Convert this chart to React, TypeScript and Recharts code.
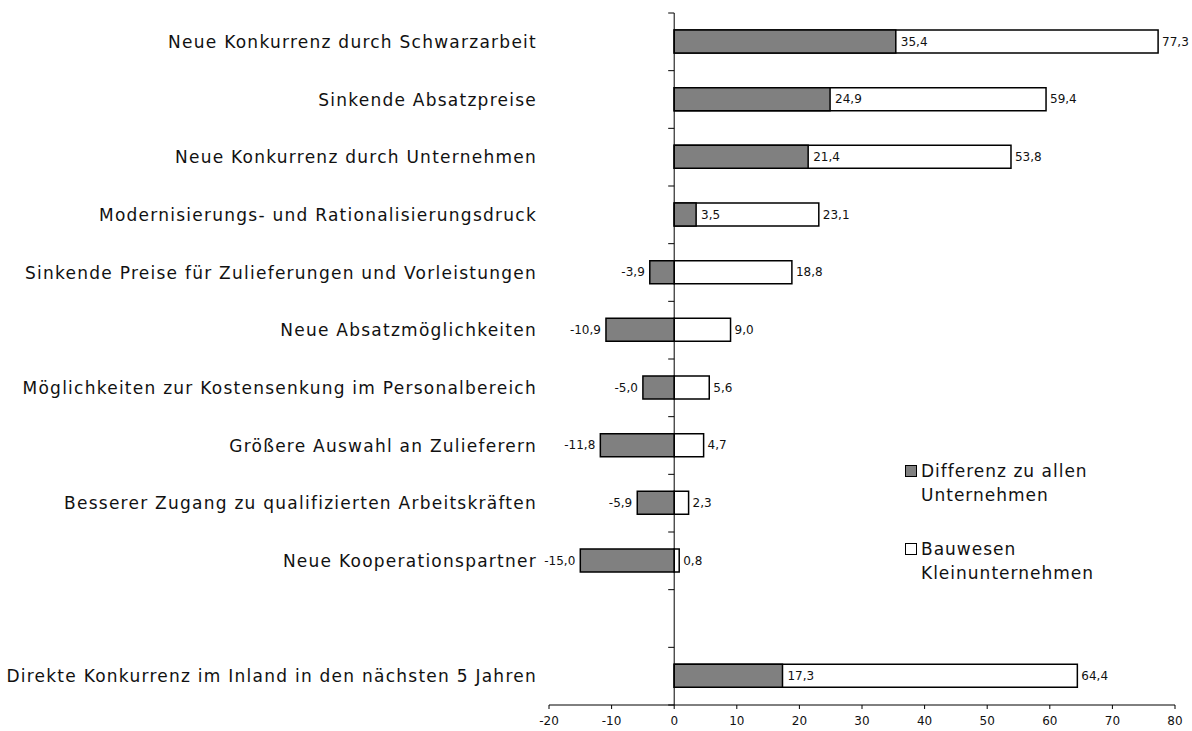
import React from 'react';
import {
  BarChart, Bar, XAxis, YAxis, ReferenceLine, LabelList
} from 'recharts';

const categories = [
  'Neue Konkurrenz durch Schwarzarbeit',
  'Sinkende Absatzpreise',
  'Neue Konkurrenz durch Unternehmen',
  'Modernisierungs- und Rationalisierungsdruck',
  'Sinkende Preise für Zulieferungen und Vorleistungen',
  'Neue Absatzmöglichkeiten',
  'Möglichkeiten zur Kostensenkung im Personalbereich',
  'Größere Auswahl an Zulieferern',
  'Besserer Zugang zu qualifizierten Arbeitskräften',
  'Neue Kooperationspartner',
  '',
  'Direkte Konkurrenz im Inland in den nächsten 5 Jahren',
];

const differenz = [35.4, 24.9, 21.4, 3.5, -3.9, -10.9, -5.0, -11.8, -5.9, -15.0, null, 17.3];
const bauwesen = [77.3, 59.4, 53.8, 23.1, 18.8, 9.0, 5.6, 4.7, 2.3, 0.8, null, 64.4];
const xTicks = [-20, -10, 0, 10, 20, 30, 40, 50, 60, 70, 80];

const diffLegend = ['Differenz zu allen', 'Unternehmen'];
const bauLegend = ['Bauwesen', 'Kleinunternehmen'];

const data = categories.map((name, i) => ({
  name,
  diff: differenz[i],
  bau: bauwesen[i],
}));

const FONT = '"DejaVu Sans", sans-serif';
const fmt = (v: any) => (v == null ? '' : Number(v).toFixed(1).replace('.', ','));

// vertical zero axis with tick marks at the category boundaries
const ZeroAxis = (props: any) => {
  const { x1, y1, y2 } = props;
  const top = Math.min(y1, y2);
  const bottom = Math.max(y1, y2);
  const step = (bottom - top) / categories.length;
  const marks = [];
  for (let i = 0; i <= categories.length; i++) {
    const y = top + i * step;
    marks.push(<line key={i} x1={x1 - 6} x2={x1} y1={y} y2={y} stroke="#000" strokeWidth={1} />);
  }
  return (
    <g>
      <line x1={x1} x2={x1} y1={top} y2={bottom} stroke="#000" strokeWidth={1} />
      {marks}
    </g>
  );
};

const CategoryTick = (props: any) => {
  const { x, y, payload } = props;
  return (
    <text x={x} y={y} dy={6} textAnchor="end" fontFamily={FONT} fontSize={17}
      letterSpacing={1.25} fill="#111">
      {payload.value}
    </text>
  );
};

const LegendBox = () => {
  const items = [
    { fill: '#808080', lines: diffLegend },
    { fill: '#fff', lines: bauLegend },
  ];
  return (
    <div style={{
      position: 'absolute', left: 905, top: 459, fontFamily: FONT, fontSize: 17,
      letterSpacing: 1, color: '#111',
    }}>
      {items.map((it, i) => (
        <div key={i} style={{ display: 'flex', alignItems: 'flex-start', marginBottom: 30 }}>
          <span style={{
            width: 10, height: 10, background: it.fill, border: '1.5px solid #000',
            marginTop: 6, marginRight: 4, flexShrink: 0,
          }} />
          <div style={{ lineHeight: '24px' }}>
            {it.lines.map((l) => <div key={l}>{l}</div>)}
          </div>
        </div>
      ))}
    </div>
  );
};

export default function App() {
  return (
    <div style={{ position: 'relative', background: '#fff', width: 1192, height: 731 }}>
      <style>{'html, body { margin: 0; overflow: hidden; }'}</style>
      <BarChart
        width={1192}
        height={731}
        data={data}
        layout="vertical"
        margin={{ top: 13, right: 17, left: 0, bottom: 0 }}
        barSize={23}
        barGap={-23}
      >
        <XAxis
          type="number"
          domain={[-20, 80]}
          ticks={xTicks}
          interval={0}
          height={26}
          axisLine={{ stroke: '#000' }}
          tickLine={{ stroke: '#000' }}
          tickSize={4}
          tickMargin={7}
          tick={{ fontSize: 12, fill: '#111', fontFamily: FONT }}
        />
        <YAxis
          type="category"
          dataKey="name"
          width={549}
          axisLine={false}
          tickLine={false}
          interval={0}
          tick={<CategoryTick />}
          tickMargin={4}
          tickSize={8}
        />
        <Bar dataKey="bau" fill="#fff" stroke="#000" strokeWidth={1.5} isAnimationActive={false}>
          <LabelList dataKey="bau" position="right" offset={4} formatter={fmt}
            style={{ fontSize: 12, fill: '#111', fontFamily: FONT }} />
        </Bar>
        <Bar dataKey="diff" fill="#808080" stroke="#000" strokeWidth={1.5} isAnimationActive={false}>
          <LabelList dataKey="diff" position="right" offset={5} formatter={fmt}
            style={{ fontSize: 12, fill: '#111', fontFamily: FONT }} />
        </Bar>
        <ReferenceLine x={0} stroke="#000" shape={<ZeroAxis />} />
      </BarChart>
      <LegendBox />
    </div>
  );
}
